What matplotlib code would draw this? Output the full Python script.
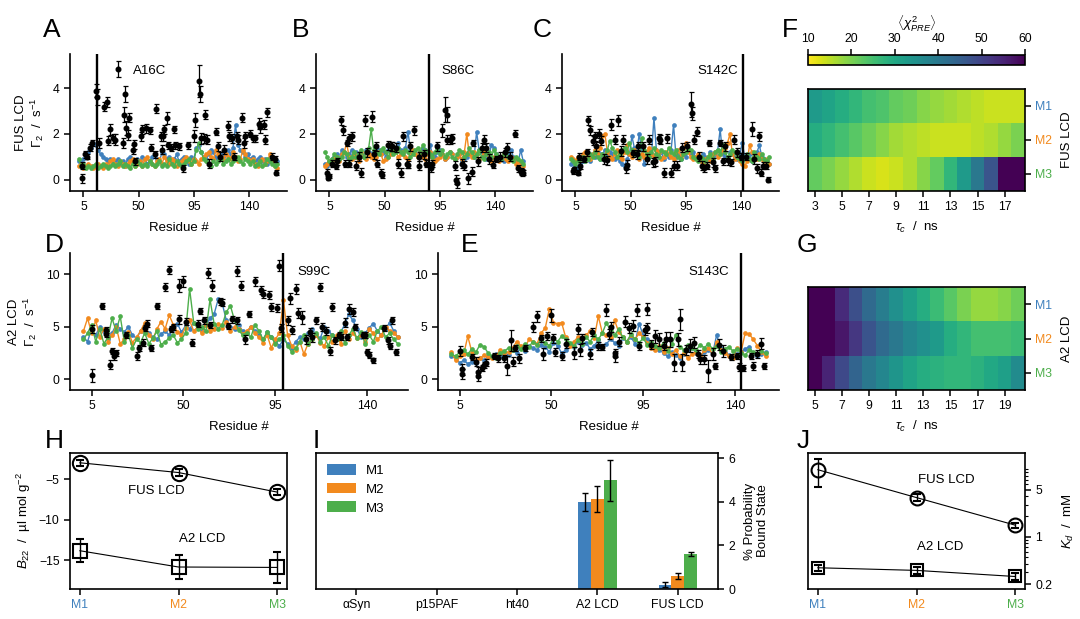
import numpy as np
import matplotlib
matplotlib.use('Agg')
import matplotlib.pyplot as plt
from matplotlib.ticker import FixedLocator, NullFormatter, LogLocator

plt.rcParams['font.family'] = ['Liberation Sans', 'DejaVu Sans']
plt.rcParams['mathtext.fontset'] = 'custom'
plt.rcParams['mathtext.rm'] = 'Liberation Sans'
plt.rcParams['mathtext.it'] = 'Liberation Sans:italic'
plt.rcParams['mathtext.bf'] = 'Liberation Sans:bold'
plt.rcParams['font.size'] = 9.5
plt.rcParams['xtick.labelsize'] = 8.8
plt.rcParams['ytick.labelsize'] = 8.8
plt.rcParams['axes.linewidth'] = 1.2
plt.rcParams['xtick.major.width'] = 1.1
plt.rcParams['ytick.major.width'] = 1.1
plt.rcParams['xtick.major.size'] = 4
plt.rcParams['ytick.major.size'] = 4

COLORS = ['#3f80bd', '#f28a1e', '#4dae4b']
MODELS = ['M1', 'M2', 'M3']

# ---------------- FUS LCD PRE profiles (simulated, every 2nd residue from 1) ----------------
A_M1 = [0.8,0.7,0.9,1.0,1.2,1.4,1.6,1.5,1.3,1.1, 1.0,0.9,0.8,0.9,0.7,0.8,0.9,0.7,0.8,0.6,
        0.9,1.0,0.8,0.7,0.9,0.8,1.0,0.9,0.7,0.8, 1.0,1.1,0.9,0.8,1.2,1.1,0.9,1.0,0.8,0.9,
        1.1,0.8,0.9,1.0,0.8,0.7,1.0,0.9,1.4,1.5, 1.2,1.0,0.9,1.1,1.3,1.2,1.0,0.9,1.1,1.0,
        1.2,1.3,1.1,1.4,2.4,1.5,1.3,1.2,1.0,1.1, 0.9,1.0,0.8,0.9,1.0,0.8,0.9,0.7,0.8,0.9, 0.7,0.8]
A_M2 = [0.6,0.7,0.5,0.6,0.7,0.6,0.5,0.6,0.7,0.6, 0.5,0.7,0.6,0.8,0.9,0.7,0.6,0.8,0.7,0.6,
        0.7,0.8,0.9,0.6,0.7,0.8,0.6,0.9,1.0,0.8, 0.7,0.6,0.8,0.9,0.7,1.0,0.8,0.7,0.9,0.8,
        0.6,0.7,0.8,0.9,1.0,0.8,0.7,0.9,0.8,0.7, 0.9,1.0,1.1,1.2,1.0,0.9,1.3,1.1,1.0,0.9,
        1.1,1.0,0.9,1.2,1.0,0.8,0.9,1.3,1.1,0.9, 0.8,0.9,0.7,0.6,0.8,0.9,0.7,0.8,1.1,0.9, 0.6,0.5]
A_M3 = [0.9,0.6,0.7,0.5,0.6,0.5,0.6,0.7,0.5,0.6, 0.7,0.6,0.5,0.6,0.7,0.6,0.7,0.8,0.6,0.7,
        0.6,0.5,0.7,0.6,0.8,0.7,0.6,0.7,0.6,0.8, 0.7,0.6,0.7,0.8,0.6,0.7,0.6,0.9,0.7,0.6,
        0.8,0.7,0.6,0.7,0.8,0.9,0.7,0.8,1.3,1.6, 1.2,0.9,0.8,0.7,0.6,0.8,0.7,0.8,0.9,0.7,
        0.8,0.9,0.7,0.8,0.9,1.0,0.8,0.7,0.9,0.8, 0.7,0.8,0.6,0.7,0.8,0.6,0.7,0.9,0.8,0.7, 0.6,0.7]

B_M1 = [0.7,0.6,0.8,0.9,1.0,1.1,0.9,1.3,1.2,1.0, 1.1,1.3,1.0,1.2,0.9,1.1,1.0,1.3,1.2,1.1,
        1.2,1.4,1.3,1.1,1.2,1.0,1.3,1.5,1.2,1.4, 1.6,1.3,1.2,1.4,2.1,1.3,1.2,1.1,1.0,1.2,
        1.4,1.3,1.2,1.5,1.1,1.0,1.2,1.3,1.1,0.9, 1.0,1.2,1.1,0.9,1.0,1.1,0.8,0.9,1.0,1.2,
        1.1,1.0,2.1,1.3,1.2,1.1,0.9,1.0,1.5,1.4, 1.1,1.0,0.9,0.8,1.0,1.1,1.3,1.0,0.9,0.8, 1.3,0.8]
B_M2 = [0.6,0.7,0.8,0.7,0.9,1.0,0.8,1.1,1.2,1.6, 1.0,0.9,1.1,1.0,0.8,1.2,1.0,0.9,1.1,1.0,
        0.9,1.0,1.2,1.1,0.8,0.9,1.0,1.1,1.2,1.3, 1.0,1.1,1.2,1.0,0.9,1.1,1.3,1.1,1.0,1.2,
        1.0,0.9,1.1,1.2,1.0,0.8,0.9,1.0,1.1,0.9, 1.0,1.2,1.1,0.9,1.0,1.1,0.9,1.2,2.0,1.1,
        1.0,1.2,1.1,0.9,1.0,1.2,1.1,0.9,0.8,1.0, 0.9,0.8,1.0,1.1,0.9,0.8,1.0,0.9,0.7,0.8, 0.7,0.6]
B_M3 = [1.2,1.0,0.8,0.9,1.1,1.0,0.9,1.0,1.2,1.1, 0.9,1.0,1.2,1.0,1.1,1.3,1.0,1.2,1.4,2.2,
        1.3,1.2,1.1,1.3,1.4,1.2,1.0,1.3,1.1,1.2, 1.4,1.2,1.1,1.3,1.2,1.0,1.1,1.3,1.4,1.2,
        1.5,1.3,1.2,1.1,1.0,1.2,1.4,1.1,1.3,1.0, 1.1,1.2,1.0,0.9,1.1,1.3,1.2,1.0,1.1,1.4,
        1.2,1.0,1.1,1.3,1.0,0.9,1.1,1.2,1.0,1.3, 1.1,1.0,0.9,1.1,1.2,1.0,0.9,0.8,1.0,0.9, 0.8,0.7]

C_M1 = [0.7,0.8,0.6,0.5,0.7,0.8,0.9,1.0,0.8,1.1, 1.0,1.2,0.9,1.1,1.3,1.0,1.2,1.1,0.9,1.0,
        0.8,0.7,0.6,0.9,1.1,1.9,1.4,1.2,2.0,1.3, 0.7,0.9,1.2,1.1,2.7,1.3,1.0,1.2,0.9,1.1,
        1.0,1.3,2.4,1.0,1.2,0.9,1.1,1.0,1.3,1.1, 1.2,1.0,0.9,0.8,1.1,1.0,0.9,1.2,1.0,1.1,
        1.3,2.2,1.1,1.0,0.9,1.2,1.1,1.0,0.9,1.1, 1.6,1.0,0.9,1.1,0.8,1.0,1.2,1.5,1.0,0.9, 0.8,0.7]
C_M2 = [1.0,0.9,0.8,1.0,0.9,1.1,1.2,1.0,0.9,1.1, 1.3,1.1,1.4,1.9,2.0,1.2,1.0,0.9,1.1,1.3,
        1.0,0.9,1.2,1.5,1.1,1.0,1.3,1.2,0.9,1.1, 1.0,1.2,1.4,1.1,1.0,1.3,1.2,0.9,1.0,1.2,
        1.1,1.0,0.9,1.2,1.3,1.0,1.4,1.6,1.2,1.0, 0.9,1.0,1.1,0.8,0.7,0.9,1.0,0.8,1.1,1.2,
        1.0,1.1,1.3,1.4,1.6,2.0,1.1,0.9,1.0,0.8, 0.7,0.6,0.8,1.5,1.2,1.0,0.9,1.1,0.9,0.8, 0.9,0.7]
C_M3 = [0.9,0.8,0.7,0.8,0.9,1.0,0.8,0.9,1.1,1.0, 1.2,1.0,0.9,1.1,1.0,1.3,1.7,1.4,1.2,1.0,
        1.1,1.3,1.4,1.2,1.6,1.3,1.1,1.2,1.0,1.8, 1.3,1.1,1.0,1.2,1.4,1.1,1.0,1.3,1.2,1.1,
        1.4,1.2,1.1,1.3,1.0,0.9,1.1,1.2,1.4,1.3, 1.0,0.9,0.8,1.0,0.9,0.8,1.0,1.1,0.9,1.2,
        1.3,1.1,1.5,1.2,1.0,1.1,1.3,1.2,1.0,0.9, 0.8,1.0,1.1,0.9,0.8,1.2,1.0,0.9,1.1,0.9, 0.8,1.0]

# ---------------- A2 LCD PRE profiles (simulated, every 2nd residue from 1) ----------------
D_M1 = [4.0,3.6,4.8,4.2,5.0,4.6,3.8,4.4,5.2,4.8, 4.5,5.0,4.2,3.9,4.6,5.1,4.4,4.0,3.8,4.3,
        4.6,4.2,4.8,5.3,4.5,5.1,4.8,5.4,5.0,4.6, 5.2,5.8,6.2,7.6,7.2,5.6,5.0,4.8,5.2,4.6,
        4.4,5.0,4.6,4.2,3.8,4.5,4.0,3.6,3.2,3.8, 3.4,3.0,3.6,4.0,3.8,4.4,4.8,4.2,3.9,5.0,
        4.6,4.2,3.8,4.5,5.2,6.2,5.6,4.8,4.0,4.4, 4.9,5.3,4.6,4.2,4.8,5.4,4.6,4.0]
D_M2 = [4.6,5.8,4.4,5.6,4.0,4.8,3.6,4.2,5.0,3.4, 3.8,4.5,3.5,4.0,4.6,5.4,4.2,3.8,4.8,5.5,
        4.8,6.1,5.2,4.5,4.2,4.9,5.6,4.6,5.0,4.4, 5.2,4.6,4.8,5.3,4.9,5.5,4.6,5.0,4.8,4.3,
        4.6,5.0,4.4,4.0,3.5,4.2,3.0,3.8,4.4,7.5, 4.2,3.2,2.8,3.6,2.4,3.4,3.8,4.2,3.5,3.2,
        4.0,3.6,4.2,3.4,4.6,3.8,4.4,3.9,4.2,3.6, 4.8,4.4,3.8,4.2,5.0,4.6,4.4,4.0]
D_M3 = [3.8,4.4,5.2,3.6,4.8,3.4,4.0,5.8,4.6,6.0, 3.6,4.2,3.0,3.8,3.5,4.4,3.4,3.9,4.6,3.3,
        3.6,3.9,4.2,3.5,3.8,4.4,8.6,5.4,4.8,5.0, 4.6,7.6,5.3,4.8,5.2,6.4,7.0,5.6,4.7,4.2,
        4.4,4.0,5.2,4.6,3.8,4.5,4.0,3.4,3.8,4.2, 3.2,2.6,3.0,3.6,4.2,3.4,3.8,4.4,3.6,4.0,
        3.2,4.2,3.8,4.6,3.5,4.2,4.8,3.9,4.5,3.4, 4.2,3.6,4.6,5.0,4.0,4.4,3.8,3.4]

E_M1 = [2.2,2.0,1.6,1.8,1.5,1.7,1.6,2.0,1.8,2.2, 2.1,2.4,2.2,2.6,2.3,2.8,2.5,3.0,2.7,3.2,
        3.0,2.8,3.3,3.1,2.6,3.5,3.2,2.5,2.8,3.4, 3.1,3.6,3.3,3.5,2.9,3.2,3.7,3.0,3.4,3.8,
        3.5,3.2,3.9,3.6,4.0,3.4,5.3,4.2,3.8,3.4, 3.1,2.8,2.5,2.2,2.6,2.3,2.0,2.4,2.8,3.0,
        2.5,2.2,2.6,2.8,2.4,4.2,3.0,2.6,2.3,2.1, 2.4,2.6,2.9,3.1,2.5,2.2,2.4,2.6]
E_M2 = [2.6,1.8,2.2,2.4,4.1,2.6,1.8,2.0,2.3,2.1, 2.0,2.3,2.8,2.5,2.6,3.0,3.6,3.2,3.0,3.8,
        3.6,3.4,4.4,4.9,6.7,5.4,5.3,5.4,4.0,3.2, 3.6,4.0,3.8,4.2,4.6,3.9,6.0,4.4,4.2,4.0,
        5.6,4.5,4.0,3.6,4.2,3.8,4.4,4.0,3.5,3.0, 2.8,3.2,2.6,3.0,2.4,2.8,2.2,2.5,2.0,2.4,
        2.6,2.2,2.8,3.0,2.4,3.6,2.8,2.5,2.2,2.0, 3.0,2.6,4.4,4.3,3.8,3.2,2.6,2.2]
E_M3 = [2.4,2.2,2.6,2.8,2.4,2.9,2.6,3.3,3.1,2.5, 2.2,2.0,2.5,2.7,3.0,2.8,3.2,2.9,3.4,3.1,
        3.6,3.3,3.8,3.5,3.2,3.9,3.6,4.1,3.8,3.5, 3.2,3.7,3.4,4.0,3.6,4.2,3.8,4.4,5.4,4.6,
        4.2,4.8,4.0,3.6,4.3,3.8,3.5,3.9,3.3,3.6, 3.2,3.0,3.5,2.7,3.4,4.2,3.1,2.8,3.3,3.0,
        2.8,3.3,3.0,3.4,2.9,3.2,2.6,2.9,3.1,2.7, 2.9,2.5,2.3,2.8,2.6,2.4,2.7,2.5]

# ---------------- experimental PRE rates ----------------
A_RES = [4,4,6,8,10,12,15,16,18,22, 24,25,27,29,31,33,37,38,39,40, 41,42,45,46,47,52,53,56,59,60,
         63,64,68,69,70,71,73,74,76,79, 80,83,86,90,95,96,99,100,101,103, 104,106,107,113,115,116,120,123,124,126,
         128,130,131,134,136,137,141,143,145,148, 149,152,153,155,159,161,162]
A_VAL = [0.05,0.6,1.1,1.0,1.4,1.6,3.9,3.6,1.6,3.2, 3.4,1.7,2.2,1.8,1.75,4.85,1.6,2.85,3.75,2.25,
         1.95,2.7,1.3,1.55,0.8,1.9,2.2,2.25,2.15,1.4, 1.1,3.1,1.9,1.3,1.9,2.2,2.7,1.5,1.4,2.2,
         1.5,1.45,0.5,1.5,1.9,2.6,4.3,3.75,1.8,1.8, 2.85,1.75,0.7,2.1,1.45,1.0,1.3,2.35,1.9,1.8,
         1.0,1.9,1.75,2.7,1.6,1.9,2.0,1.8,1.8,2.45, 2.3,2.4,1.75,2.95,1.0,0.9,0.3]
A_ERR = [0.2,0.15,0.15,0.12,0.15,0.15,0.3,0.35,0.2,0.2, 0.2,0.2,0.25,0.2,0.25,0.35,0.2,0.35,0.35,0.3,
         0.2,0.2,0.2,0.2,0.15,0.2,0.2,0.2,0.15,0.15, 0.15,0.2,0.2,0.2,0.2,0.2,0.25,0.15,0.15,0.15,
         0.15,0.15,0.15,0.15,0.25,0.3,0.7,0.35,0.25,0.2, 0.2,0.2,0.2,0.15,0.2,0.2,0.2,0.2,0.2,0.2,
         0.15,0.2,0.2,0.2,0.2,0.2,0.15,0.15,0.15,0.25, 0.25,0.2,0.2,0.2,0.15,0.15,0.12]

B_RES = [3,4,5,7,10,11,14,16,18,19, 21,21,23,27,29,31,34,36,40,41, 43,44,47,48,53,55,56,59,61,63,
         65,68,69,71,74,78,78,82,84,87, 88,89,93,97,99,101,101,103,105,107, 108,109,113,115,118,121,122,126,129,131,
         133,135,138,141,144,148,150,152,156,159, 161,162,163]
B_VAL = [0.3,0.07,0.15,0.7,0.6,0.8,2.6,2.15,0.7,1.6, 1.8,0.7,1.9,0.6,1.0,0.3,2.6,1.2,2.75,1.1,
         1.45,0.7,0.3,0.2,1.5,1.45,1.45,1.4,0.7,0.3, 1.9,0.7,0.65,1.45,2.15,0.6,1.0,1.1,0.7,0.6,
         0.5,0.7,1.45,2.15,3.05,2.85,1.75,1.75,1.8,0.6, 0.0,-0.15,0.7,0.6,0.05,0.35,1.6,0.8,1.4,1.75,
         1.4,0.9,0.65,0.9,1.0,1.2,1.4,1.0,2.0,0.5, 0.35,0.3,0.3]
B_ERR = [0.15,0.1,0.1,0.15,0.15,0.15,0.2,0.2,0.15,0.15, 0.2,0.15,0.2,0.2,0.2,0.2,0.25,0.2,0.25,0.2,
         0.2,0.15,0.15,0.15,0.2,0.2,0.2,0.2,0.2,0.2, 0.2,0.2,0.15,0.2,0.2,0.2,0.2,0.2,0.15,0.15,
         0.15,0.15,0.2,0.3,0.55,0.35,0.2,0.2,0.2,0.2, 0.2,0.2,0.2,0.2,0.25,0.2,0.15,0.2,0.2,0.2,
         0.2,0.2,0.15,0.15,0.2,0.2,0.2,0.2,0.15,0.15, 0.15,0.15,0.12]

C_RES = [3,4,7,8,9,12,14,15,17,19, 21,22,24,26,28,31,34,37,40,42, 44,46,47,52,55,56,60,63,65,68,
         70,73,74,77,80,83,85,88,92,96, 99,100,102,104,106,108,110,112,114,117, 119,123,125,127,129,132,134,137,140,144,
         149,151,153,155,156,158,160,162]
C_VAL = [0.37,0.45,0.3,1.0,0.6,0.9,1.2,2.6,2.15,1.7, 1.9,1.45,2.0,1.7,0.9,0.85,2.4,1.75,2.6,1.25,
         1.75,0.5,0.65,1.15,1.1,1.45,1.45,0.9,1.75,0.75, 0.8,1.8,1.75,0.3,1.8,0.3,0.6,0.6,1.4,1.45,
         3.3,2.9,1.75,2.1,1.0,0.6,0.5,0.6,1.6,0.75, 0.5,1.6,0.8,1.45,0.85,0.75,1.75,1.2,1.0,1.0,
         2.2,0.9,0.5,1.9,0.3,0.6,0.6,0.0]
C_ERR = [0.12,0.12,0.12,0.15,0.15,0.15,0.15,0.2,0.2,0.2, 0.2,0.2,0.2,0.2,0.2,0.2,0.25,0.2,0.25,0.2,
         0.2,0.2,0.2,0.15,0.2,0.2,0.2,0.2,0.2,0.2, 0.2,0.2,0.2,0.2,0.2,0.2,0.2,0.2,0.2,0.2,
         0.55,0.3,0.2,0.2,0.2,0.2,0.15,0.15,0.15,0.2, 0.15,0.15,0.15,0.2,0.2,0.15,0.2,0.2,0.15,0.15,
         0.3,0.2,0.2,0.2,0.15,0.15,0.15,0.1]

D_RES = [5,5,10,12,12,14,16,15,17,22, 27,28,30,31,32,34,37,41,43,44, 45,48,48,50,51,54,57,58,60,62,
         63,64,68,69,72,74,76,76,78,80, 82,85,88,89,92,93,96,97,98,101, 102,103,105,106,108,110,112,113,115,117,
         118,120,122,123,124,126,127,129,130,131, 133,134,138,139,140,141,143,148,150,151, 152,154]
D_VAL = [0.4,4.8,7.0,4.3,4.7,1.4,2.2,2.7,2.5,4.2, 2.2,3.0,3.5,4.9,5.3,3.0,7.0,8.8,10.4,4.8,
         5.0,8.9,5.7,9.3,5.5,3.5,5.3,6.5,5.6,10.1, 5.2,8.9,7.4,7.3,5.1,5.7,10.3,5.6,8.9,3.8,
         6.2,9.3,8.5,8.1,8.0,6.9,6.8,10.8,4.9,5.6, 7.7,4.7,8.6,6.3,5.9,3.8,4.5,4.0,5.6,8.8,
         5.0,4.6,2.7,6.9,3.7,4.2,4.0,5.4,4.0,6.7, 6.4,5.0,4.2,4.2,2.6,2.3,1.8,4.9,3.7,3.2, 5.6,2.6]
D_ERR = [0.6,0.4,0.3,0.3,0.3,0.4,0.4,0.3,0.3,0.3, 0.4,0.3,0.3,0.3,0.3,0.3,0.3,0.4,0.4,0.3,
         0.3,0.6,0.4,0.5,0.3,0.3,0.3,0.3,0.3,0.5, 0.3,0.5,0.3,0.3,0.3,0.3,0.5,0.3,0.4,0.4,
         0.3,0.4,0.4,0.4,0.4,0.4,0.4,0.5,0.4,0.4, 0.5,0.4,0.5,0.5,0.6,0.4,0.4,0.4,0.3,0.4,
         0.4,0.4,0.4,0.4,0.3,0.3,0.3,0.4,0.3,0.5, 0.4,0.3,0.3,0.3,0.3,0.3,0.2,0.3,0.3,0.3, 0.3,0.3]

E_RES = [5,6,6,11,13,14,14,16,17,18, 22,24,27,28,30,31,32,34,37,41, 43,45,46,48,50,51,52,55,57,61,
         63,64,65,69,70,73,75,77,78,79, 81,81,83,86,88,90,92,93,96,97, 97,99,101,103,105,106,108,110,112,113,
         114,116,118,120,122,123,125,127,129,130, 132,134,138,141,142,144,148,149,151,153, 154]
E_VAL = [2.7,0.95,0.5,2.1,1.7,0.7,0.3,1.1,1.4,1.6, 2.2,2.0,2.0,1.3,3.7,1.7,3.0,2.0,3.0,5.0,
         6.0,3.9,2.4,4.1,6.1,3.9,2.6,2.2,3.4,2.5, 4.8,2.8,3.9,2.4,4.5,3.2,3.1,6.6,4.3,5.0,
         2.2,2.5,3.6,5.5,4.9,5.1,6.6,3.2,4.7,6.7, 4.9,3.3,4.1,3.8,3.2,3.8,3.8,1.6,3.8,5.7,
         1.6,2.8,3.2,3.5,2.4,1.9,1.9,0.8,2.4,1.3, 3.3,2.7,2.1,2.2,1.2,1.1,2.2,1.3,2.4,3.4, 1.3]
E_ERR = [0.5,0.5,0.5,0.3,0.4,0.5,0.4,0.3,0.3,0.3, 0.3,0.3,0.3,0.9,1.0,0.4,0.3,0.4,0.3,0.5,
         0.5,0.3,0.6,0.4,0.6,0.4,0.4,0.4,0.4,0.6, 0.5,0.6,0.4,0.5,0.4,0.4,0.3,0.6,0.5,0.5,
         0.5,0.4,0.4,0.5,0.5,0.5,0.6,0.4,0.5,0.6, 0.5,0.4,0.6,0.6,0.4,0.7,0.7,0.8,0.6,1.0,
         0.8,0.5,0.6,0.5,0.4,0.4,0.4,1.0,0.6,0.3, 0.5,0.6,0.3,0.3,0.4,0.3,0.3,0.4,0.4,0.5, 0.3]

# ---------------- chi^2 heat maps ----------------
F_TAU = [3,4,5,6,7,8,9,10,11,12,13,14,15,16,17,18]
F_M1 = [33,31,29,27,25,24,22,21,19,18,17,16,15,14,14,14]
F_M2 = [29,27,25,23,21,19,17,16,15,14,14,14,15,16,18,20]
F_M3 = [22,20,18,16,14,13,14,16,19,22,27,33,40,47,60,60]
G_TAU = [5,6,7,8,9,10,11,12,13,14,15,16,17,18,19,20]
G_M1 = [60,60,54,48,43,39,35,32,29,26,23,20,18,18,19,21]
G_M2 = [60,60,57,52,47,43,40,37,35,33,29,27,25,25,25,26]
G_M3 = [60,55,49,44,40,37,34,31,29,28,27,27,28,30,32,36]

# ---------------- B22, bound-state probability, Kd ----------------
H_FUS = [-3.0, -4.2, -6.6]
H_FUS_ERR = [0.35, 0.4, 0.35]
H_A2 = [-13.8, -15.8, -15.85]
H_A2_ERR = [1.4, 1.5, 1.9]

I_CATS = ['αSyn', 'p15PAF', 'ht40', 'A2 LCD', 'FUS LCD']
I_M1 = [0.0, 0.0, 0.0, 4.0, 0.2]
I_M2 = [0.0, 0.0, 0.0, 4.15, 0.6]
I_M3 = [0.0, 0.0, 0.0, 5.0, 1.6]
I_M1_ERR = [0.0, 0.0, 0.0, 0.42, 0.1]
I_M2_ERR = [0.0, 0.0, 0.0, 0.6, 0.12]
I_M3_ERR = [0.0, 0.0, 0.0, 0.95, 0.08]

J_FUS = [9.8, 3.8, 1.49]
J_FUS_LO = [4.3, 0.45, 0.12]
J_FUS_HI = [4.4, 0.45, 0.12]
J_A2 = [0.35, 0.32, 0.26]
J_A2_ERR = [0.04, 0.04, 0.03]

fig = plt.figure(figsize=(10.8, 6.19), dpi=100)
W, H = 1080.0, 619.0


def px_axes(l, t, r, b):
    return fig.add_axes([l / W, 1 - b / H, (r - l) / W, (b - t) / H])


def residue_panel(ax, sims, er, ev, ee, vline, tag, tag_x, tag_y, tag_ha, xlim, ylim, yticks):
    for vals, c in zip(sims, COLORS):
        x = np.arange(1, 2 * len(vals), 2)
        ax.plot(x, vals, '-', color=c, lw=1.0, zorder=2)
        ax.plot(x, vals, 'o', color=c, ms=3.4, mew=0, zorder=2)
    n = min(len(er), len(ev), len(ee))
    ax.errorbar(er[:n], ev[:n], yerr=ee[:n], fmt='o', color='k', ms=3.3,
                elinewidth=0.9, capsize=1.8, capthick=0.9, zorder=4)
    ax.axvline(vline, color='k', lw=1.7, zorder=5)
    ax.text(tag_x, tag_y, tag, ha=tag_ha, va='center', fontsize=9.5)
    ax.set_xlim(xlim)
    ax.set_ylim(ylim)
    ax.set_xticks([5, 50, 95, 140])
    ax.set_yticks(yticks)
    ax.spines[['top', 'right']].set_visible(False)
    ax.set_xlabel('Residue #', labelpad=6)


axA = px_axes(70, 54, 287, 191)
axB = px_axes(316, 54, 533, 191)
axC = px_axes(562, 54, 779, 191)
axD = px_axes(70, 253, 408, 390)
axE = px_axes(438, 253, 779, 390)

residue_panel(axA, [A_M1, A_M2, A_M3], A_RES, A_VAL, A_ERR, 16, 'A16C', 45, 4.75, 'left',
              (-6, 171), (-0.5, 5.5), [0, 2, 4])
residue_panel(axB, [B_M1, B_M2, B_M3], B_RES, B_VAL, B_ERR, 86, 'S86C', 96, 4.75, 'left',
              (-6, 171), (-0.5, 5.5), [0, 2, 4])
residue_panel(axC, [C_M1, C_M2, C_M3], C_RES, C_VAL, C_ERR, 142, 'S142C', 138, 4.75, 'right',
              (-6, 171), (-0.5, 5.5), [0, 2, 4])
residue_panel(axD, [D_M1, D_M2, D_M3], D_RES, D_VAL, D_ERR, 99, 'S99C', 106, 10.2, 'left',
              (-5.6, 160), (-1, 12), [0, 5, 10])
residue_panel(axE, [E_M1, E_M2, E_M3], E_RES, E_VAL, E_ERR, 143, 'S143C', 137, 10.2, 'right',
              (-5.6, 161.6), (-1, 12), [0, 5, 10])
axA.set_ylabel('FUS LCD\n$\\Gamma_2$  /  s$^{-1}$', labelpad=5, linespacing=1.1)
axD.set_ylabel('A2 LCD\n$\\Gamma_2$  /  s$^{-1}$', labelpad=5, linespacing=1.1)

# heat maps
cmap = plt.get_cmap('viridis_r')


def heat_panel(ax, tau, rows, ylabel, xticks):
    data = np.array(rows, dtype=float)
    tau = np.asarray(tau, dtype=float)
    xe = np.concatenate([tau - 0.5, [tau[-1] + 0.5]])
    ye = np.arange(len(rows) + 1) - 0.5
    m = ax.pcolormesh(xe, ye, data, cmap=cmap, vmin=10, vmax=60, shading='flat')
    ax.set_ylim(2.5, -0.5)
    ax.set_xlim(xe[0], xe[-1])
    ax.set_xticks(xticks)
    ax.set_yticks([0, 1, 2])
    ax.set_yticklabels(MODELS)
    ax.yaxis.tick_right()
    ax.yaxis.set_label_position('right')
    for t, c in zip(ax.get_yticklabels(), COLORS):
        t.set_color(c)
    ax.set_ylabel(ylabel, labelpad=6)
    ax.set_xlabel('$\\tau_c$  /  ns', labelpad=5)
    return m


axF = px_axes(808, 89, 1025, 191)
mF = heat_panel(axF, F_TAU, [F_M1, F_M2, F_M3], 'FUS LCD', [3, 5, 7, 9, 11, 13, 15, 17])
axG = px_axes(808, 287, 1025, 390)
heat_panel(axG, G_TAU, [G_M1, G_M2, G_M3], 'A2 LCD', [5, 7, 9, 11, 13, 15, 17, 19])

cax = px_axes(808, 55, 1025, 65)
cb = fig.colorbar(mF, cax=cax, orientation='horizontal')
cb.set_ticks([10, 20, 30, 40, 50, 60])
cax.xaxis.set_ticks_position('top')
cax.xaxis.set_label_position('top')
cb.set_label('$\\langle\\chi^2_{PRE}\\rangle$', labelpad=3)
cb.outline.set_linewidth(1.2)

# H: B22
axH = px_axes(70, 453, 287, 589)
x3 = np.arange(3)
axH.plot(x3, H_FUS, '-', color='k', lw=0.8)
axH.errorbar(x3, H_FUS, yerr=H_FUS_ERR, fmt='o', ms=11, mfc='none', mec='k', mew=1.5,
             ecolor='k', elinewidth=1.0, capsize=3, capthick=1.0)
axH.plot(x3, H_A2, '-', color='k', lw=0.8)
axH.errorbar(x3, H_A2, yerr=H_A2_ERR, fmt='s', ms=10, mfc='none', mec='k', mew=1.5,
             ecolor='k', elinewidth=1.0, capsize=3, capthick=1.0)
axH.text(0.78, -6.5, 'FUS LCD', ha='center', va='center', fontsize=9.5)
axH.text(1.24, -12.4, 'A2 LCD', ha='center', va='center', fontsize=9.5)
axH.set_xlim(-0.1, 2.1)
axH.set_ylim(-18.5, -1.8)
axH.set_yticks([-5, -10, -15])
axH.set_xticks(x3)
axH.set_xticklabels(MODELS)
for t, c in zip(axH.get_xticklabels(), COLORS):
    t.set_color(c)
axH.set_ylabel('$B_{22}$  /  µl mol g$^{-2}$', labelpad=4)

# I: bound state probability
axI = px_axes(316, 453, 718, 589)
xc = np.arange(len(I_CATS))
bw = 0.16
for k, (vals, errs, c, lab) in enumerate(zip([I_M1, I_M2, I_M3], [I_M1_ERR, I_M2_ERR, I_M3_ERR],
                                              COLORS, MODELS)):
    xs = xc + (k - 1) * bw
    axI.bar(xs, vals, width=bw, color=c, label=lab)
    v = np.array(vals)
    e = np.array(errs)
    msk = e > 0
    axI.errorbar(xs[msk], v[msk], yerr=e[msk], fmt='none', ecolor='k', elinewidth=1.0,
                 capsize=2, capthick=1.0)
axI.set_xlim(-0.5, 4.5)
axI.set_ylim(0, 6.25)
axI.set_xticks(xc)
axI.set_xticklabels(I_CATS)
axI.yaxis.tick_right()
axI.yaxis.set_label_position('right')
axI.set_yticks([0, 2, 4, 6])
axI.set_ylabel('% Probability\nBound State', labelpad=6, linespacing=1.1)
axI.legend(loc='upper left', frameon=False, handlelength=2.2, handleheight=0.9,
           borderaxespad=0.4, labelspacing=0.45, fontsize=9.5, bbox_to_anchor=(0.0, 1.0))

# J: Kd
axJ = px_axes(808, 453, 1025, 589)
axJ.set_yscale('log')
axJ.plot(x3, J_FUS, '-', color='k', lw=0.8)
axJ.errorbar(x3, J_FUS, yerr=[J_FUS_LO, J_FUS_HI], fmt='o', ms=10, mfc='none', mec='k', mew=1.5,
             ecolor='k', elinewidth=1.0, capsize=3, capthick=1.0)
axJ.plot(x3, J_A2, '-', color='k', lw=0.8)
axJ.errorbar(x3, J_A2, yerr=J_A2_ERR, fmt='s', ms=8.5, mfc='none', mec='k', mew=1.5,
             ecolor='k', elinewidth=1.0, capsize=3, capthick=1.0)
axJ.text(1.3, 7.0, 'FUS LCD', ha='center', va='center', fontsize=9.5)
axJ.text(1.24, 0.7, 'A2 LCD', ha='center', va='center', fontsize=9.5)
axJ.set_xlim(-0.1, 2.1)
axJ.set_ylim(0.17, 17.3)
axJ.yaxis.tick_right()
axJ.yaxis.set_label_position('right')
axJ.yaxis.set_major_locator(FixedLocator([0.2, 1, 5]))
axJ.set_yticklabels(['0.2', '1', '5'])
axJ.yaxis.set_minor_locator(LogLocator(base=10, subs=np.arange(1, 10) * 1.0))
axJ.yaxis.set_minor_formatter(NullFormatter())
axJ.tick_params(axis='y', which='minor', length=2.5, width=0.8)
axJ.set_xticks(x3)
axJ.set_xticklabels(MODELS)
for t, c in zip(axJ.get_xticklabels(), COLORS):
    t.set_color(c)
axJ.set_ylabel('$K_d$  /  mM', labelpad=6)

# panel letters (baseline positions in pixels)
letters = [('A', 43, 37), ('B', 292, 37), ('C', 533, 37), ('F', 782, 37),
           ('D', 45, 252), ('E', 461, 252), ('G', 797, 252),
           ('H', 45, 448), ('I', 313, 448), ('J', 797, 448)]
for s, x, y in letters:
    fig.text(x / W, 1 - y / H, s, fontsize=19, ha='left', va='baseline')

fig.savefig('out.png', dpi=100)
